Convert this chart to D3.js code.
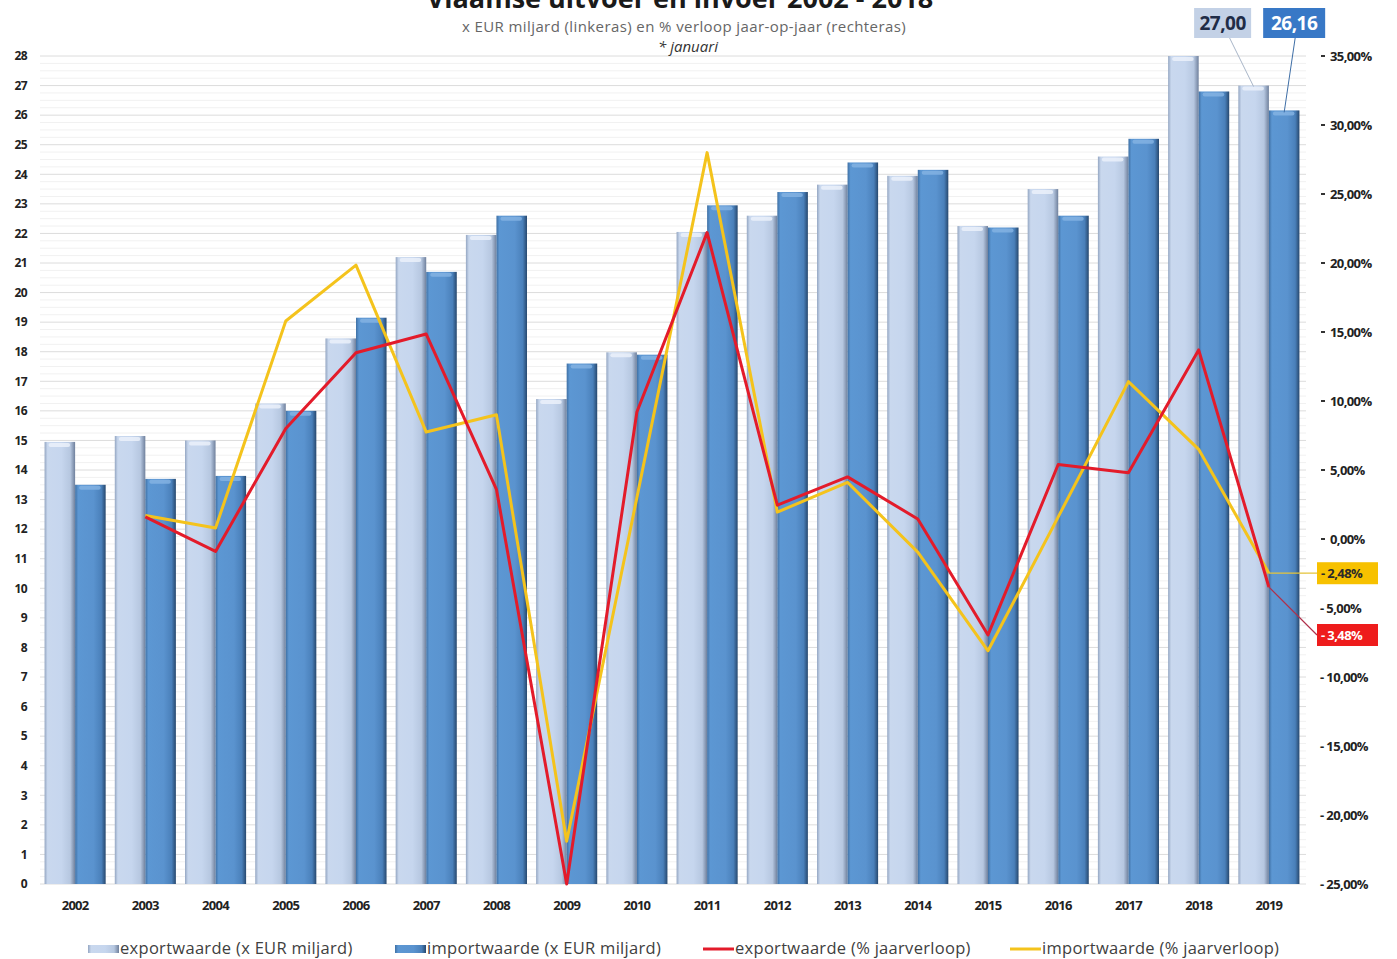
<!DOCTYPE html>
<html>
<head>
<meta charset="utf-8">
<script src="https://cdn.jsdelivr.net/npm/d3@7"></script>
<style>
  body { margin: 0; background: #fff; }
  #chart { width: 1397px; height: 959px; }
  text { font-family: "Open Sans", sans-serif; }
</style>
</head>
<body>
<div id="chart"></div>
<script>
// data
const years = ["2002","2003","2004","2005","2006","2007","2008","2009","2010","2011","2012","2013","2014","2015","2016","2017","2018","2019"];
const exportValue = [14.95, 15.15, 15.0, 16.25, 18.45, 21.2, 21.95, 16.4, 17.98, 22.05, 22.6, 23.65, 23.95, 22.25, 23.5, 24.6, 28.0, 27.0];
const importValue = [13.5, 13.7, 13.8, 16.0, 19.15, 20.7, 22.6, 17.6, 17.9, 22.95, 23.4, 24.4, 24.15, 22.2, 22.6, 25.2, 26.8, 26.16];
const exportGrowth = [null, 1.6, -0.9, 8.0, 13.5, 14.85, 3.6, -25.0, 9.2, 22.2, 2.45, 4.5, 1.45, -6.95, 5.4, 4.8, 13.7, -3.48];
const importGrowth = [null, 1.7, 0.8, 15.8, 19.85, 7.75, 9.0, -21.9, 3.0, 28.0, 1.95, 4.1, -0.95, -8.1, 1.6, 11.4, 6.5, -2.48];
const leftTicks = d3.range(0, 29);
const rightTicks = d3.range(-25, 36, 5);
const legendLabels = ["exportwaarde (x EUR miljard)", "importwaarde (x EUR miljard)", "exportwaarde (% jaarverloop)", "importwaarde (% jaarverloop)"];

const width = 1397;
const height = 959;
const marginTop = 56;
const marginBottom = 75;
const marginLeft = 40;
const marginRight = 93;

const fmt = v => d3.format(".2f")(v).replace(".", ",");
const pct = v => (v < 0 ? "- " + fmt(-v) : fmt(v)) + "%";

const svg = d3.select("#chart").append("svg")
    .attr("width", width)
    .attr("height", height);

// gradients for the 3D-ish bars
const defs = svg.append("defs");
const grad = (id, stops) => {
    const g = defs.append("linearGradient").attr("id", id)
        .attr("x1", "0%").attr("x2", "100%").attr("y1", "0%").attr("y2", "0%");
    stops.forEach(([o, c]) => g.append("stop").attr("offset", o).attr("stop-color", c));
};
grad("gradExport", [["0%", "#94a6c2"], ["10%", "#c9d8ee"], ["55%", "#c6d6ee"], ["84%", "#b6c7e0"], ["100%", "#6f809c"]]);
grad("gradImport", [["0%", "#3f70a4"], ["10%", "#5c97d3"], ["60%", "#5a93cf"], ["86%", "#4a80ba"], ["100%", "#27486e"]]);

const x0 = d3.scaleBand()
    .domain(years)
    .range([marginLeft, width - marginRight])
    .paddingInner(0.13)
    .paddingOuter(0.065);

const x1 = d3.scaleBand()
    .domain(["export", "import"])
    .range([0, x0.bandwidth()]);

const yL = d3.scaleLinear().domain([0, 28]).range([height - marginBottom, marginTop]);
const yR = d3.scaleLinear().domain([-25, 35]).range([height - marginBottom, marginTop]);

// grid lines
const grid = svg.append("g");
grid.selectAll("line.minor")
    .data(d3.range(0, 28, 0.25).filter(d => d % 1 !== 0))
    .join("line")
    .attr("class", "minor")
    .attr("x1", marginLeft).attr("x2", width - marginRight + 2)
    .attr("y1", d => yL(d)).attr("y2", d => yL(d))
    .attr("stroke", "#f1f1f1");
grid.selectAll("line.major")
    .data(leftTicks)
    .join("line")
    .attr("class", "major")
    .attr("x1", marginLeft).attr("x2", width - marginRight + 2)
    .attr("y1", d => yL(d)).attr("y2", d => yL(d))
    .attr("stroke", "#dcdcdc");

// bars
const rows = years.map((y, i) => ({ year: y, export: exportValue[i], import: importValue[i] }));
const groups = svg.append("g")
    .selectAll("g")
    .data(rows)
    .join("g")
    .attr("transform", d => `translate(${x0(d.year)},0)`);

const bars = groups.selectAll("g")
    .data(d => ["export", "import"].map(k => ({ key: k, value: d[k] })))
    .join("g");

bars.append("rect")
    .attr("x", d => x1(d.key))
    .attr("y", d => yL(d.value))
    .attr("width", x1.bandwidth())
    .attr("height", d => yL(0) - yL(d.value))
    .attr("fill", d => d.key === "export" ? "url(#gradExport)" : "url(#gradImport)");

// top caps
bars.append("rect")
    .attr("x", d => x1(d.key) + 4)
    .attr("y", d => yL(d.value) + 1)
    .attr("width", x1.bandwidth() - 9)
    .attr("height", 4)
    .attr("rx", 2)
    .attr("fill", d => d.key === "export" ? "#eef3fb" : "#86b4e3")
    .attr("opacity", 0.8);

// growth lines (right axis)
const cx = i => x0(years[i]) + x0.bandwidth() / 2;
const line = d3.line()
    .defined(d => d.v !== null)
    .x(d => cx(d.i))
    .y(d => yR(d.v));

svg.append("path")
    .datum(importGrowth.map((v, i) => ({ v, i })))
    .attr("d", line)
    .attr("fill", "none")
    .attr("stroke", "#f4c31c")
    .attr("stroke-width", 3)
    .attr("stroke-linejoin", "round");

svg.append("path")
    .datum(exportGrowth.map((v, i) => ({ v, i })))
    .attr("d", line)
    .attr("fill", "none")
    .attr("stroke", "#e31b2a")
    .attr("stroke-width", 3)
    .attr("stroke-linejoin", "round");

// left axis
svg.append("g")
    .attr("transform", `translate(27,0)`)
    .call(d3.axisLeft(yL).tickValues(leftTicks).tickSize(0).tickPadding(0).tickFormat(d3.format("d")))
    .call(g => g.select(".domain").remove())
    .call(g => g.selectAll("text")
        .attr("font-family", "Open Sans")
        .attr("font-weight", "bold")
        .attr("font-size", 12)
        .attr("letter-spacing", "-0.6")
        .attr("fill", "#222"));

// right axis
const axisX = width - marginRight + 16;
const ra = svg.append("g").attr("transform", `translate(${axisX},0)`);
const rt = ra.selectAll("g").data(rightTicks).join("g")
    .attr("transform", d => `translate(0,${yR(d)})`);
rt.filter(d => d >= 0).append("line")
    .attr("x1", 1).attr("x2", 5)
    .attr("stroke", "#333").attr("stroke-width", 2);
rt.append("text")
    .attr("x", d => d >= 0 ? 10 : 0)
    .attr("dy", "0.35em")
    .attr("font-weight", "bold")
    .attr("font-size", 13)
    .attr("letter-spacing", "-0.6")
    .attr("fill", "#222")
    .text(d => pct(d));

// x axis labels
svg.append("g")
    .attr("transform", `translate(0,${height - marginBottom})`)
    .call(d3.axisBottom(x0).tickSize(0).tickPadding(17))
    .call(g => g.select(".domain").remove())
    .call(g => g.selectAll("text")
        .attr("font-family", "Open Sans")
        .attr("font-weight", "bold")
        .attr("font-size", 13)
        .attr("letter-spacing", "-0.7")
        .attr("fill", "#222"));

// value callouts for the last year
const last = years.length - 1;
const expX = x0(years[last]) + x1("export") + x1.bandwidth() / 2;
const impX = x0(years[last]) + x1("import") + x1.bandwidth() / 2;

svg.append("line")
    .attr("x1", expX - 24).attr("y1", 38)
    .attr("x2", expX).attr("y2", yL(exportValue[last]) + 1)
    .attr("stroke", "#a9b6c8").attr("stroke-width", 1);
svg.append("line")
    .attr("x1", impX + 11).attr("y1", 38)
    .attr("x2", impX).attr("y2", yL(importValue[last]) + 2)
    .attr("stroke", "#3e6ea6").attr("stroke-width", 1);

const callout = (cxp, w, fill, color, txt) => {
    svg.append("rect")
        .attr("x", cxp - w / 2).attr("y", 8)
        .attr("width", w).attr("height", 30)
        .attr("fill", fill);
    svg.append("text")
        .attr("x", cxp).attr("y", 30)
        .attr("text-anchor", "middle")
        .attr("font-weight", "bold")
        .attr("font-size", 19)
        .attr("letter-spacing", "-0.5")
        .attr("fill", color)
        .text(txt);
};
callout(expX - 31, 57, "#c3d1e6", "#1f2c47", fmt(exportValue[last]));
callout(impX + 10, 62, "#3878c6", "#ffffff", fmt(importValue[last]));

// percent callouts on the right axis
const boxX = axisX - 3;
const pctBox = (v, by, fill, color, stroke) => {
    svg.append("polyline")
        .attr("points", `${cx(last)},${yR(v)} ${boxX},${by + 11}`)
        .attr("fill", "none")
        .attr("stroke", stroke)
        .attr("stroke-width", 1.2);
    svg.append("rect")
        .attr("x", boxX).attr("y", by)
        .attr("width", 61).attr("height", 22)
        .attr("fill", fill);
    svg.append("text")
        .attr("x", boxX + 4).attr("y", by + 11)
        .attr("dy", "0.35em")
        .attr("font-weight", "bold")
        .attr("font-size", 13)
        .attr("letter-spacing", "-0.6")
        .attr("fill", color)
        .text(pct(v));
};
pctBox(importGrowth[last], yR(importGrowth[last]) - 11, "#f7c100", "#2a2a2a", "#e6c53a");
pctBox(exportGrowth[last], 624, "#ee1c1c", "#ffffff", "#b0304a");

// titles
svg.append("text")
    .attr("x", 680).attr("y", 8)
    .attr("text-anchor", "middle")
    .attr("font-weight", "bold")
    .attr("font-size", 27)
    .attr("fill", "#1a1a1a")
    .text("Vlaamse uitvoer en invoer 2002  - 2018");
svg.append("text")
    .attr("x", 684).attr("y", 32)
    .attr("text-anchor", "middle")
    .attr("font-size", 15)
    .attr("letter-spacing", "0.4")
    .attr("fill", "#666")
    .text("x EUR miljard (linkeras) en % verloop jaar-op-jaar (rechteras)");
svg.append("text")
    .attr("x", 688).attr("y", 52)
    .attr("text-anchor", "middle")
    .attr("font-size", 15)
    .attr("font-style", "italic")
    .attr("fill", "#333")
    .text("* januari");

// legend
const legendX = [88, 395, 703, 1010];
const legend = svg.append("g")
    .selectAll("g")
    .data(legendLabels)
    .join("g")
    .attr("transform", (d, i) => `translate(${legendX[i]},949)`);

legend.filter((d, i) => i < 2).append("rect")
    .attr("x", 0).attr("y", -4)
    .attr("width", 31).attr("height", 8)
    .attr("fill", (d, i) => i === 0 ? "url(#gradExport)" : "url(#gradImport)");
legend.filter((d, i) => i >= 2).append("line")
    .attr("x1", 0).attr("x2", 31)
    .attr("stroke", (d, i) => i === 0 ? "#e31b2a" : "#f4c31c")
    .attr("stroke-width", 3);
legend.append("text")
    .attr("x", 32).attr("y", 5)
    .attr("font-size", 16.5)
    .attr("letter-spacing", "0.3")
    .attr("fill", "#404040")
    .text(d => d);
</script>
</body>
</html>
